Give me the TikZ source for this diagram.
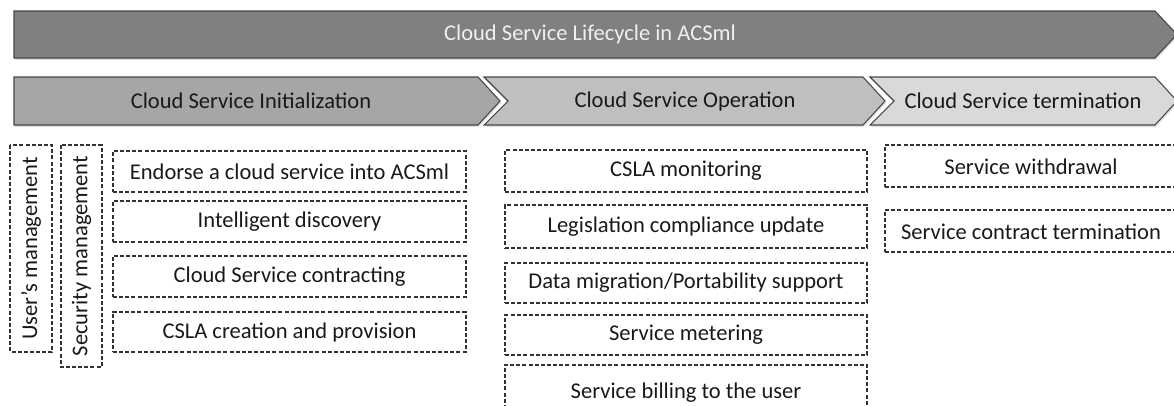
\documentclass[tikz,border=0pt]{standalone}
\usepackage{fontspec}
\setmainfont{Carlito}
\begin{document}
\begin{tikzpicture}[x=0.75pt,y=-0.75pt,
  every node/.style={font=\fontsize{16.9}{19}\selectfont, text=black!90, inner sep=0pt},
  phase/.style={draw=black!72, line width=0.8pt, line join=miter},
  dbox/.style n args={2}{draw=black!80, line width=0.85pt,
    dash pattern=on 3pt off 1.6pt, minimum width=#1*0.75pt, minimum height=#2*0.75pt},
]
\definecolor{lifeg}{HTML}{808080}
\definecolor{initg}{HTML}{A6A6A6}
\definecolor{operg}{HTML}{BFBFBF}
\definecolor{termg}{HTML}{D9D9D9}
\useasboundingbox (0,0) rectangle (1174,405);
\clip (0,0) rectangle (1174,405);

% faint drop shadows under the bands
\fill[black!12] (15,13) -- (1156,13) -- (1178,36.5) -- (1156,60) -- (15,60) -- cycle;
\fill[black!12] (15,79) -- (479,79) -- (501,103) -- (479,127) -- (15,127) -- cycle;
\fill[black!12] (485,79) -- (864,79) -- (886,103) -- (864,127) -- (485,127) -- (509,103) -- cycle;
\fill[black!12] (871,79) -- (1156,79) -- (1178,103) -- (1156,127) -- (871,127) -- (895,103) -- cycle;

% overall lifecycle band
\filldraw[phase, fill=lifeg] (14,11) -- (1155,11) -- (1177,34.5) -- (1155,58) -- (14,58) -- cycle;
\node[text=white!94!black] (life) at (590,34.5) {Cloud Service Lifecycle in ACSml};

% phase chevrons
\filldraw[phase, fill=initg] (14,77) -- (478,77) -- (500,101) -- (478,125) -- (14,125) -- cycle;
\filldraw[phase, fill=operg] (484,77) -- (863,77) -- (885,101) -- (863,125) -- (484,125) -- (508,101) -- cycle;
\filldraw[phase, fill=termg] (870,77) -- (1155,77) -- (1177,101) -- (1155,125) -- (870,125) -- (894,101) -- cycle;
\node (init) at (251,101) {Cloud Service Initialization};
\node (oper) at (685,101) {Cloud Service Operation};
\node (term) at (1023,101) {Cloud Service termination};

% cross-cutting management activities
\node[dbox={207}{42}, rotate=90] (users) at (31,248.5) {User’s management};
\node[dbox={222}{41}, rotate=90] (secu) at (81.5,256) {Security management};

% initialization activities
\node[dbox={353}{41}] (endorse) at (289.5,171.5) {Endorse a cloud service into ACSml};
\node[dbox={353}{41}] (discov) at (289.5,221.5) {Intelligent discovery};
\node[dbox={353}{41}] (contract) at (289.5,276.5) {Cloud Service contracting};
\node[dbox={353}{40}] (csla) at (289.5,332) {CSLA creation and provision};

% operation activities
\node[dbox={362}{42}] (monit) at (686,171) {CSLA monitoring};
\node[dbox={362}{43}] (legis) at (686,226.5) {Legislation compliance update};
\node[dbox={362}{40}] (migr) at (686,283) {Data migration/Portability support};
\node[dbox={362}{40}] (meter) at (686,335) {Service metering};
\node[dbox={362}{58}] (bill) at (686,394) {};
\node (billtxt) at (686,393) {Service billing to the user};

% termination activities
\node[dbox={300}{42}] (withdr) at (1035,166) {};
\node (withtxt) at (1031,167) {Service withdrawal};
\node[dbox={300}{42}] (ctterm) at (1035,231) {};
\node (cttxt) at (1031,231.5) {Service contract termination};
\end{tikzpicture}
\end{document}
